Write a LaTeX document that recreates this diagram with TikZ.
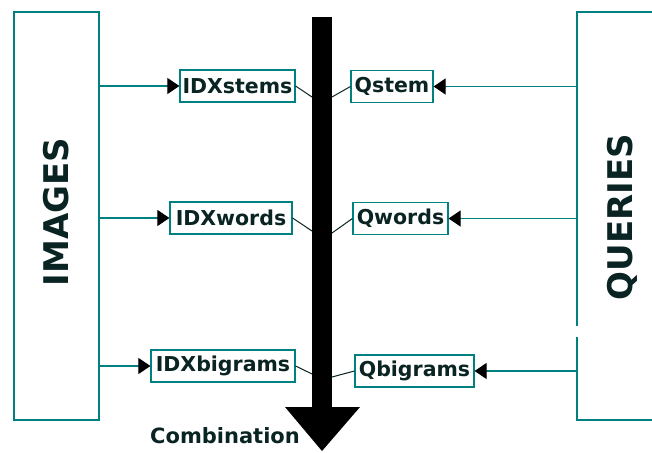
\documentclass[tikz,border=0pt]{standalone}
\usepackage{fontspec}
\setmainfont{DejaVu Sans}
\usetikzlibrary{arrows.meta}
\definecolor{lineteal}{RGB}{0,128,128}
\definecolor{inkdark}{RGB}{10,35,35}

\begin{document}
\begin{tikzpicture}[x=1pt,y=-1pt,
  panel/.style={draw=lineteal, line width=1.2pt},
  sidelabel/.style={rotate=90, font=\fontsize{34}{34}\selectfont\bfseries, text=inkdark},
  term/.style={draw=lineteal, line width=1.2pt, fill=white,
    font=\fontsize{20.5}{20.5}\selectfont\bfseries, text=inkdark,
    minimum height=32pt, inner sep=0pt},
  feed/.style={draw=lineteal, line width=1.1pt,
    -{Triangle[length=12pt,width=16pt,color=black,fill=black]}},
  link/.style={draw=inkdark, line width=1pt}]
\useasboundingbox (0,0) rectangle (652,452);

% left panel
\node[panel, minimum width=85pt, minimum height=408pt, inner sep=0pt] (images) at (56.5,216) {};
\node[sidelabel] (imglbl) at (56,212) {IMAGES};

% right panel (open on the right side)
\coordinate (qtr) at (652,12);
\coordinate (qtl) at (577,12);
\coordinate (qgapa) at (577,326);
\coordinate (qgapb) at (577,337);
\coordinate (qbl) at (577,420);
\coordinate (qbr) at (652,420);
\draw[panel] (qtr) -- (qtl) -- (qgapa);
\draw[panel] (qgapb) -- (qbl) -- (qbr);
\node[sidelabel] (qrylbl) at (622,217) {QUERIES};

% central combination arrow
\node[fill=black, minimum width=20pt, minimum height=391pt, inner sep=0pt, anchor=north] (shaft) at (322,17) {};
\coordinate (headl) at (285,407);
\coordinate (headr) at (360,407);
\coordinate (headtip) at (322,451);
\fill[black] (headl) -- (headr) -- (headtip) -- cycle;
\node[font=\fontsize{21}{21}\selectfont\bfseries, text=inkdark] (comb) at (225,436) {Combination};

% index terms
\node[term, minimum width=115pt] (idxstems) at (237.5,86) {IDXstems};
\node[term, minimum width=122pt] (idxwords) at (231,218) {IDXwords};
\node[term, minimum width=144pt] (idxbigrams) at (223,366) {IDXbigrams};

% query terms
\node[term, minimum width=82pt] (qstem) at (392,86.5) {Qstem};
\node[term, minimum width=95pt] (qwords) at (400.5,218.5) {Qwords};
\node[term, minimum width=119pt] (qbigrams) at (414.5,371) {Qbigrams};

% feeds from the panels
\draw[feed] (images.east |- idxstems) -- (idxstems.west);
\draw[feed] (images.east |- idxwords) -- (idxwords.west);
\draw[feed] (images.east |- idxbigrams) -- (idxbigrams.west);
\draw[feed] (qtl |- qstem) -- (qstem.east);
\draw[feed] (qtl |- qwords) -- (qwords.east);
\draw[feed] (qtl |- qbigrams) -- (qbigrams.east);

% joins into the shaft
\coordinate (j1l) at (312,97);
\coordinate (j2l) at (312,231);
\coordinate (j3l) at (312,374);
\coordinate (j1r) at (332,97);
\coordinate (j2r) at (332,233);
\coordinate (j3r) at (332,377);
\draw[link] (idxstems.east) -- (j1l);
\draw[link] (idxwords.east) -- (j2l);
\draw[link] (idxbigrams.east) -- (j3l);
\draw[link] (qstem.west) -- (j1r);
\draw[link] (qwords.west) -- (j2r);
\draw[link] (qbigrams.west) -- (j3r);
\end{tikzpicture}
\end{document}
